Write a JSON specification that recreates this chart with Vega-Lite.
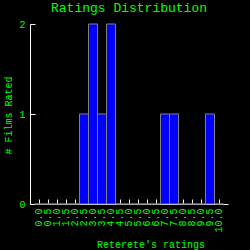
{
  "$schema": "https://vega.github.io/schema/vega-lite/v6.json",
  "autosize": "none",
  "width": 198,
  "height": 180,
  "padding": {"left": 30, "top": 24, "right": 22, "bottom": 46},
  "background": "#000000",
  "config": {"view": {"stroke": null}},
  "title": {"text": "Ratings Distribution", "font": "Liberation Mono", "fontSize": 13, "fontWeight": "normal", "color": "#00ff00", "anchor": "middle", "frame": "group", "baseline": "alphabetic", "offset": -6},
  "data": {"values": [
    {"rating": "0.0", "count": 0}, {"rating": "0.5", "count": 0}, {"rating": "1.0", "count": 0},
    {"rating": "1.5", "count": 0}, {"rating": "2.0", "count": 0}, {"rating": "2.5", "count": 1},
    {"rating": "3.0", "count": 2}, {"rating": "3.5", "count": 1}, {"rating": "4.0", "count": 2},
    {"rating": "4.5", "count": 0}, {"rating": "5.0", "count": 0}, {"rating": "5.5", "count": 0},
    {"rating": "6.0", "count": 0}, {"rating": "6.5", "count": 0}, {"rating": "7.0", "count": 1},
    {"rating": "7.5", "count": 1}, {"rating": "8.0", "count": 0}, {"rating": "8.5", "count": 0},
    {"rating": "9.0", "count": 0}, {"rating": "9.5", "count": 1}, {"rating": "10.0", "count": 0}
  ]},
  "mark": {"type": "bar", "fill": "#0000ff", "stroke": "#808080", "strokeWidth": 1},
  "encoding": {
    "x": {"field": "rating", "type": "nominal", "sort": null,
      "scale": {"paddingInner": 0, "paddingOuter": 0.5},
      "axis": {"title": "Reterete's ratings", "labelAngle": 270, "labelOverlap": false, "labelFont": "Liberation Mono", "labelFontSize": 10, "labelColor": "#00ff00",
        "labelPadding": 9, "tickSize": -5, "tickColor": "#ffffff", "domainColor": "#ffffff",
        "titleFont": "Liberation Mono", "titleFontSize": 10, "titleFontWeight": "normal", "titleColor": "#00ff00",
        "titleX": 120.5, "titleY": 43, "titleAlign": "center", "titleBaseline": "alphabetic", "titleAnchor": null}},
    "y": {"field": "count", "type": "quantitative", "scale": {"domain": [0, 2], "nice": false},
      "axis": {"title": "# Films Rated", "values": [0, 1, 2], "labelExpr": "datum.value == 0 ? '0' : datum.value == 1 ? '1' : '2'", "grid": false, "labelOverlap": false, "labelFont": "Liberation Mono", "labelFontSize": 10, "labelColor": "#00ff00",
        "labelPadding": 10, "tickSize": -5, "tickColor": "#ffffff", "domainColor": "#ffffff",
        "titleFont": "Liberation Mono", "titleFontSize": 10, "titleFontWeight": "normal", "titleColor": "#00ff00",
        "titleX": -18.3, "titleY": 91, "titleAngle": 270, "titleAlign": "center", "titleBaseline": "alphabetic", "titleAnchor": null}}
  }
}
